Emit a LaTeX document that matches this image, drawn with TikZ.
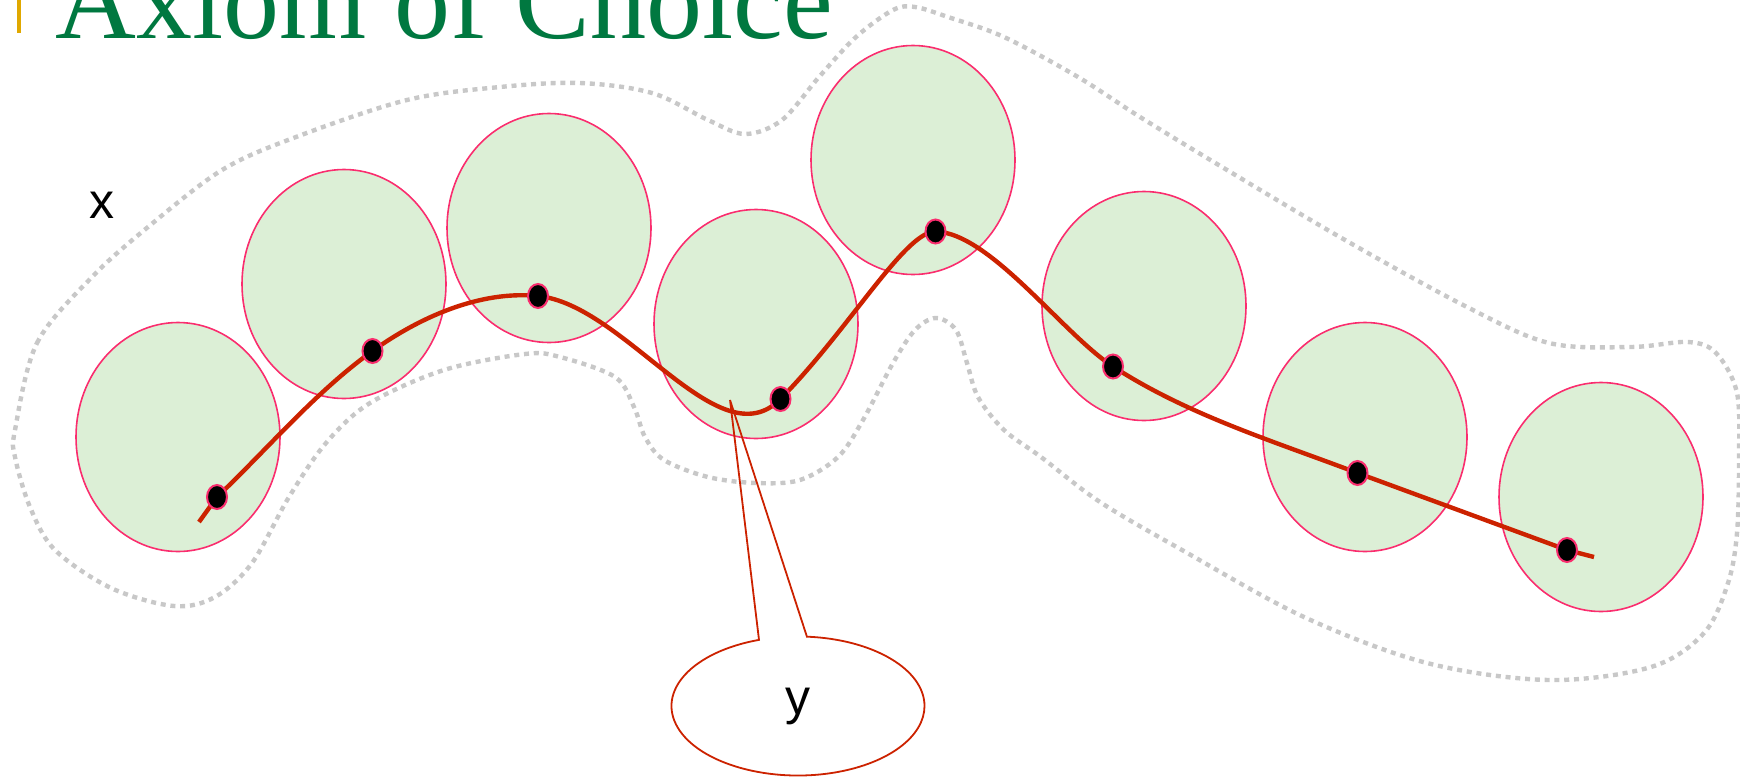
\documentclass[tikz,border=0pt]{standalone}
\usepackage{fontspec}
\setmainfont{Liberation Serif}
\newfontfamily\labelfont{Liberation Sans}
\usetikzlibrary{shapes.geometric,shapes.callouts}
\definecolor{setfill}{RGB}{220,239,214}
\definecolor{setline}{RGB}{250,45,110}
\definecolor{chainred}{RGB}{204,34,0}
\definecolor{titlegreen}{RGB}{0,120,64}
\definecolor{bargold}{RGB}{224,168,0}
\definecolor{hullgray}{RGB}{200,200,200}

\begin{document}
\begin{tikzpicture}[x=0.5pt, y=-0.5pt,
    subset/.style={ellipse, draw=setline, fill=setfill, line width=0.8pt, minimum width=102pt, minimum height=114.5pt, inner sep=0pt},
    chosen/.style={ellipse, draw=setline, fill=black, line width=1pt, minimum width=10pt, minimum height=12pt, inner sep=0pt},
    lbl/.style={font=\labelfont\fontsize{25}{30}\selectfont, inner sep=0pt},
    hull/.style={draw=hullgray, line width=2.2pt, dash pattern=on 2.5pt off 2.4pt}]
  \useasboundingbox (0,0) rectangle (1740,777);

  % title, cut off at the top
  \node[fill=bargold, inner sep=0pt, minimum width=2pt, minimum height=16.5pt, anchor=north] (bar) at (19,0) {};
  \node[anchor=base west, inner sep=0pt, text=titlegreen, font=\fontsize{56}{60}\selectfont] (title) at (55,38) {Axiom of Choice};

  \node[subset] (s1) at (178,437) {};
  \node[subset] (s2) at (344,284) {};
  \node[subset] (s3) at (549,228) {};
  \node[subset] (s4) at (756,324) {};
  \node[subset] (s5) at (913,160) {};
  \node[subset] (s6) at (1144,306) {};
  \node[subset] (s7) at (1365,437) {};
  \node[subset] (s8) at (1601,497) {};

  \draw[hull] plot[smooth cycle, tension=0.55] coordinates {
    (15,430) (37,343) (92,277) (148,227) (222,170) (296,137) (407,100) (500,87)
    (580,83) (652,93) (708,120) (745,134) (782,120) (819,77) (856,37) (893,10)
    (915,7) (948,17) (1004,37) (1078,77) (1140,117) (1222,167) (1345,240) (1467,307)
    (1549,343) (1631,347) (1688,342) (1716,353) (1737,393) (1739,460) (1737,533) (1728,583)
    (1704,633) (1651,667) (1549,680) (1427,663) (1304,617) (1182,550) (1100,502) (1041,457)
    (1004,430) (978,397) (967,363) (956,330) (936,318) (915,330) (893,363) (863,420)
    (838,457) (800,480) (756,483) (708,477) (664,460) (645,437) (634,407) (615,377)
    (560,357) (525,354) (444,370) (370,403) (326,443) (289,497) (252,563) (215,597)
    (174,606) (111,588) (55,550) (30,507) (15,457)};

  \node[lbl] (xlab) at (102,205) {x};

  \coordinate (p0) at (199,522);
  \coordinate (p1) at (217,497);   \coordinate (p2) at (372.5,351);
  \coordinate (p3) at (538,296);   \coordinate (p4) at (780.5,399);
  \coordinate (p5) at (935.5,231.5); \coordinate (p6) at (1113,366.5);
  \coordinate (p7) at (1357.5,473); \coordinate (p8) at (1567,550);
  \coordinate (p9) at (1594,557);

  \draw[chainred, line width=2.2pt] (p0) -- (p1)
    .. controls (268.5,448) and (314.9,392.5) .. (p2)
    .. controls (419.6,317.1) and (480.3,290.2) .. (p3)
    .. controls (625.6,304.8) and (718.9,461.8) .. (p4)
    .. controls (850.5,327.6) and (905,231.5) .. (p5)
    .. controls (990,233) and (1062.7,333.8) .. (p6)
    .. controls (1187.6,415) and (1274.3,441.4) .. (p7) -- (p8) -- (p9);

  \node[chosen] (d1) at (p1) {}; \node[chosen] (d2) at (p2) {};
  \node[chosen] (d3) at (p3) {}; \node[chosen] (d4) at (p4) {};
  \node[chosen] (d5) at (p5) {}; \node[chosen] (d6) at (p6) {};
  \node[chosen] (d7) at (p7) {}; \node[chosen] (d8) at (p8) {};

  \coordinate (tip) at (730,400);
  \node[lbl, ellipse callout, draw=chainred, line width=0.9pt, minimum width=126.5pt, minimum height=69.5pt,
    callout absolute pointer={(tip)}, callout pointer arc=22] (ylab) at (798,706) {y};
\end{tikzpicture}
\end{document}
